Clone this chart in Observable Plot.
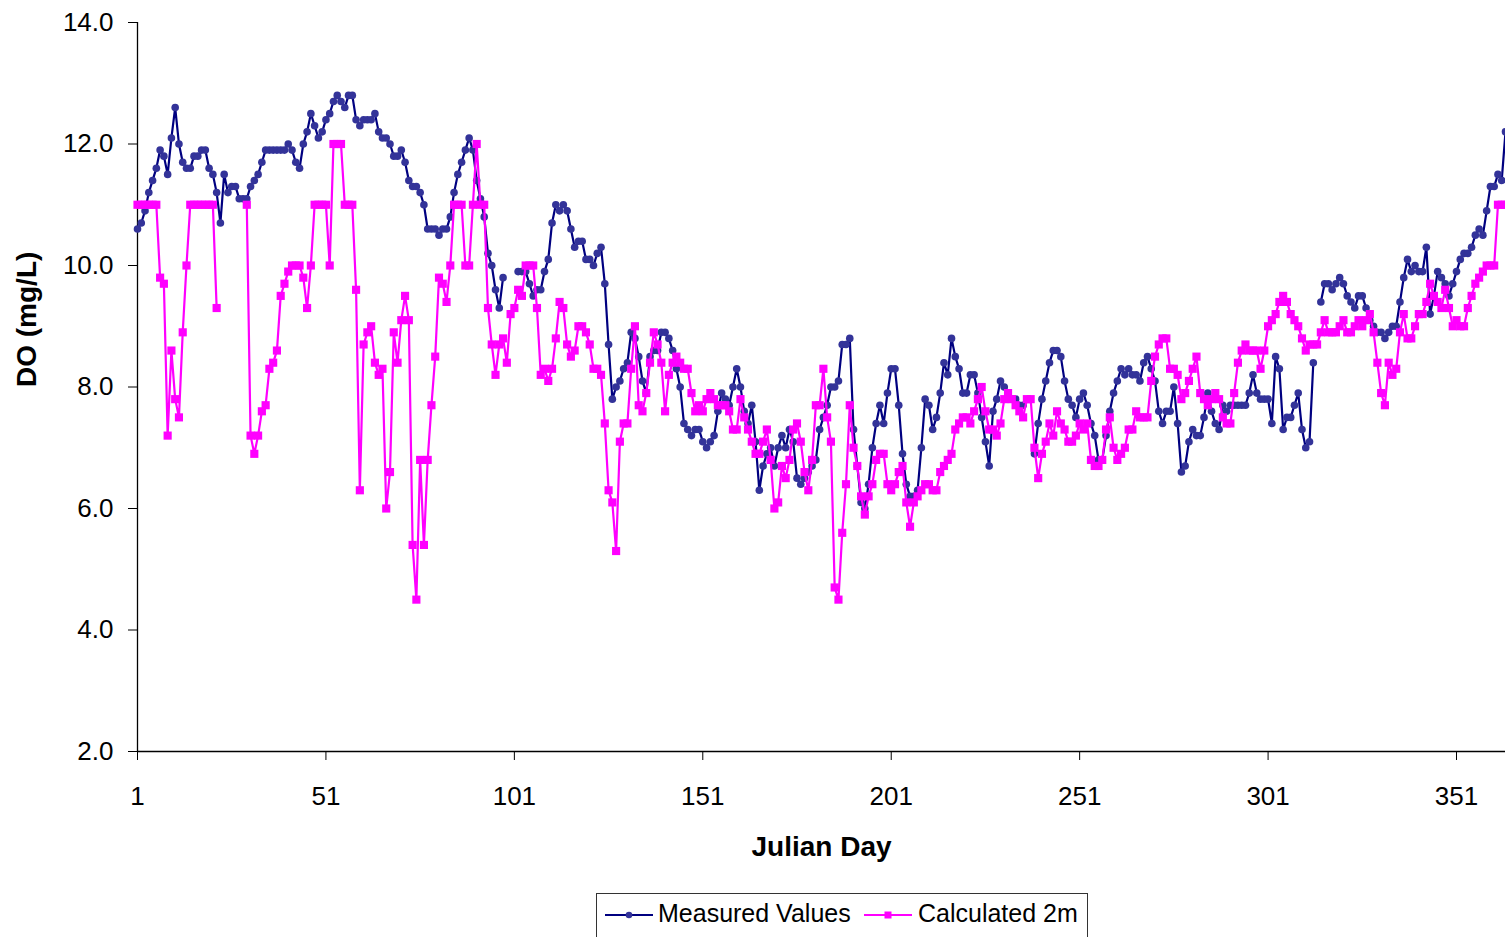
<!DOCTYPE html>
<html>
<head>
<meta charset="utf-8">
<script src="https://cdn.jsdelivr.net/npm/d3@7"></script>
<script src="https://cdn.jsdelivr.net/npm/@observablehq/plot@0.6"></script>
<style>
  body { margin: 0; background: #fff; font-family: "Liberation Sans", Arial, sans-serif; }
  #wrap { position: relative; width: 1505px; height: 937px; overflow: hidden; background: #fff; }
  #legend { position: absolute; left: 596px; top: 893px; width: 492px; height: 60px; border: 1px solid #333; box-sizing: border-box; background: #fff; }
  #legend .lab { position: absolute; top: 4px; font-size: 25px; line-height: 30px; color: #000; white-space: nowrap; }
  #legend svg { position: absolute; top: 13px; }
</style>
</head>
<body>
<div id="wrap">
  <div id="chart"></div>
  <div id="legend"></div>
</div>
<script>
// Julian day 1..364, DO (mg/L)
const measured = [
  10.6, 10.7, 10.9, 11.2, 11.4, 11.6, 11.9, 11.8, 11.5, 12.1,
  12.6, 12.0, 11.7, 11.6, 11.6, 11.8, 11.8, 11.9, 11.9, 11.6,
  11.5, 11.2, 10.7, 11.5, 11.2, 11.3, 11.3, 11.1, 11.1, 11.1,
  11.3, 11.4, 11.5, 11.7, 11.9, 11.9, 11.9, 11.9, 11.9, 11.9,
  12.0, 11.9, 11.7, 11.6, 12.0, 12.2, 12.5, 12.3, 12.1, 12.2,
  12.4, 12.5, 12.7, 12.8, 12.7, 12.6, 12.8, 12.8, 12.4, 12.3,
  12.4, 12.4, 12.4, 12.5, 12.2, 12.1, 12.1, 12.0, 11.8, 11.8,
  11.9, 11.7, 11.4, 11.3, 11.3, 11.2, 11.0, 10.6, 10.6, 10.6,
  10.5, 10.6, 10.6, 10.8, 11.2, 11.5, 11.7, 11.9, 12.1, 11.9,
  11.4, 11.1, 10.8, 10.2, 10.0, 9.6, 9.3, 9.8, null, null,
  null, 9.9, 9.9, 9.9, 9.7, 9.5, 9.6, 9.6, 9.9, 10.1,
  10.7, 11.0, 10.9, 11.0, 10.9, 10.6, 10.3, 10.4, 10.4, 10.1,
  10.1, 10.0, 10.2, 10.3, 9.7, 8.7, 7.8, 8.0, 8.1, 8.3,
  8.4, 8.9, 8.8, 8.5, 8.1, 7.9, 8.5, 8.6, 8.6, 8.9,
  8.9, 8.8, 8.6, 8.3, 8.0, 7.4, 7.3, 7.2, 7.3, 7.3,
  7.1, 7.0, 7.1, 7.2, 7.6, 7.9, 7.8, 7.7, 8.0, 8.3,
  8.0, 7.6, 7.4, 7.7, 7.1, 6.3, 6.7, 6.9, 7.0, 6.7,
  7.0, 7.2, 7.0, 7.3, 7.1, 6.5, 6.4, 6.5, 6.6, 6.7,
  6.8, 7.3, 7.5, 7.7, 8.0, 8.0, 8.1, 8.7, 8.7, 8.8,
  7.3, 6.7, 6.1, 6.0, 6.4, 7.0, 7.4, 7.7, 7.4, 7.9,
  8.3, 8.3, 7.7, 6.9, 6.4, 6.2, 6.2, 6.3, 7.0, 7.8,
  7.7, 7.3, 7.5, 7.9, 8.4, 8.2, 8.8, 8.5, 8.3, 7.9,
  7.9, 8.2, 8.2, 7.9, 7.5, 7.1, 6.7, 7.6, 7.8, 8.1,
  8.0, 7.9, 7.8, 7.8, 7.7, 7.7, null, null, 6.9, 7.4,
  7.8, 8.1, 8.4, 8.6, 8.6, 8.5, 8.1, 7.8, 7.7, 7.5,
  7.8, 7.9, 7.7, 7.4, 7.2, 6.8, 6.8, 7.2, 7.6, 7.9,
  8.1, 8.3, 8.2, 8.3, 8.2, 8.2, 8.1, 8.4, 8.5, 8.3,
  8.1, 7.6, 7.4, 7.6, 7.6, 8.0, 7.4, 6.6, 6.7, 7.1,
  7.3, 7.2, 7.2, 7.5, 7.9, 7.6, 7.4, 7.3, 7.7, 7.6,
  7.7, 7.7, 7.7, 7.7, 7.7, 7.9, 8.2, 7.9, 7.8, 7.8,
  7.8, 7.4, 8.5, 8.3, 7.3, 7.5, 7.5, 7.7, 7.9, 7.3,
  7.0, 7.1, 8.4, null, 9.4, 9.7, 9.7, 9.6, 9.7, 9.8,
  9.7, 9.5, 9.4, 9.3, 9.5, 9.5, 9.3, 9.1, 9.0, 8.9,
  8.9, 8.8, 8.9, 9.0, 9.0, 9.4, 9.8, 10.1, 9.9, 10.0,
  9.9, 9.9, 10.3, 9.2, 9.5, 9.9, 9.8, 9.7, 9.5, 9.7,
  9.9, 10.1, 10.2, 10.2, 10.3, 10.5, 10.6, 10.5, 10.9, 11.3,
  11.3, 11.5, 11.4, 12.2
];

const calculated = [
  11.0, 11.0, 11.0, 11.0, 11.0, 11.0, 9.8, 9.7, 7.2, 8.6,
  7.8, 7.5, 8.9, 10.0, 11.0, 11.0, 11.0, 11.0, 11.0, 11.0,
  11.0, 9.3, null, null, null, null, null, null, null, 11.0,
  7.2, 6.9, 7.2, 7.6, 7.7, 8.3, 8.4, 8.6, 9.5, 9.7,
  9.9, 10.0, 10.0, 10.0, 9.8, 9.3, 10.0, 11.0, 11.0, 11.0,
  11.0, 10.0, 12.0, 12.0, 12.0, 11.0, 11.0, 11.0, 9.6, 6.3,
  8.7, 8.9, 9.0, 8.4, 8.2, 8.3, 6.0, 6.6, 8.9, 8.4,
  9.1, 9.5, 9.1, 5.4, 4.5, 6.8, 5.4, 6.8, 7.7, 8.5,
  9.8, 9.7, 9.4, 10.0, 11.0, 11.0, 11.0, 10.0, 10.0, 11.0,
  12.0, 11.0, 11.0, 9.3, 8.7, 8.2, 8.7, 8.8, 8.4, 9.2,
  9.3, 9.6, 9.5, 10.0, 10.0, 10.0, 9.3, 8.2, 8.3, 8.1,
  8.3, 8.8, 9.4, 9.3, 8.7, 8.5, 8.6, 9.0, 9.0, 8.9,
  8.7, 8.3, 8.3, 8.2, 7.4, 6.3, 6.1, 5.3, 7.1, 7.4,
  7.4, 8.3, 9.0, 7.7, 7.6, 7.9, 8.4, 8.9, 8.7, 8.4,
  7.6, 8.2, 8.4, 8.5, 8.4, 8.3, 8.3, 7.9, 7.6, 7.7,
  7.6, 7.8, 7.9, 7.8, 7.7, 7.7, 7.7, 7.6, 7.3, 7.3,
  7.8, 7.5, 7.3, 7.1, 6.9, 6.9, 7.1, 7.3, 6.8, 6.0,
  6.1, 6.7, 6.5, 6.8, 7.3, 7.4, 7.1, 6.6, 6.3, 6.8,
  7.7, 7.7, 8.3, 7.5, 7.1, 4.7, 4.5, 5.6, 6.4, 7.7,
  7.0, 6.7, 6.2, 5.9, 6.2, 6.4, 6.8, 6.9, 6.9, 6.4,
  6.3, 6.4, 6.6, 6.7, 6.1, 5.7, 6.1, 6.2, 6.3, 6.4,
  6.4, 6.3, 6.3, 6.6, 6.7, 6.8, 6.9, 7.3, 7.4, 7.5,
  7.5, 7.4, 7.6, 7.8, 8.0, 7.6, 7.3, 7.3, 7.2, 7.4,
  7.8, 7.9, 7.8, 7.7, 7.6, 7.5, 7.8, 7.8, 7.0, 6.5,
  6.9, 7.1, 7.4, 7.2, 7.6, 7.4, 7.3, 7.1, 7.1, 7.2,
  7.4, 7.3, 7.4, 6.8, 6.7, 6.7, 6.8, 7.3, 7.5, 7.0,
  6.8, 6.9, 7.0, 7.3, 7.3, 7.6, 7.5, 7.5, 7.5, 8.1,
  8.5, 8.7, 8.8, 8.8, 8.3, 8.3, 8.2, 7.8, 7.9, 8.1,
  8.3, 8.5, 7.9, 7.8, 7.7, 7.8, 7.9, 7.8, 7.5, 7.4,
  7.4, 7.9, 8.4, 8.6, 8.7, 8.6, 8.6, 8.6, 8.3, 8.6,
  9.0, 9.1, 9.2, 9.4, 9.5, 9.4, 9.2, 9.1, 9.0, 8.8,
  8.6, 8.7, 8.7, 8.7, 8.9, 9.1, 8.9, 8.9, 8.9, 9.0,
  9.1, 8.9, 8.9, 9.0, 9.1, 9.0, 9.1, 9.2, 8.9, 8.4,
  7.9, 7.7, 8.4, 8.2, 8.3, 8.9, 9.2, 8.8, 8.8, 9.0,
  9.2, 9.2, 9.4, 9.7, 9.5, 9.4, 9.3, 9.6, 9.3, 9.0,
  9.1, 9.0, 9.0, 9.3, 9.5, 9.7, 9.8, 9.9, 10.0, 10.0,
  10.0, 11.0, 11.0, 11.0
];

const seriesNames = ["Measured Values", "Calculated 2m"];
const xTicks = [1, 51, 101, 151, 201, 251, 301, 351];
const yTicks = [2, 4, 6, 8, 10, 12, 14];
const xTitle = "Julian Day";
const yTitle = "DO (mg/L)";

const mData = measured.map((v, i) => ({day: i + 1, v}));
const cData = calculated.map((v, i) => ({day: i + 1, v}));
const lastDay = Math.max(measured.length, calculated.length);

const FONT = '"Liberation Sans", Arial, sans-serif';
const BLUE_LINE = "#000080", BLUE_DOT = "#333399", MAGENTA = "#ff00ff";

const chart = Plot.plot({
  width: 1505,
  height: 880,
  marginLeft: 137,
  marginRight: 0,
  marginTop: 22,
  marginBottom: 129,
  style: {fontFamily: FONT, fontSize: "26px", color: "#000", background: "#fff", overflow: "visible"},
  x: {domain: [1, lastDay], ticks: xTicks, tickFormat: d => String(d), tickSize: 9, tickPadding: 26, label: null},
  y: {domain: [yTicks[0], yTicks[yTicks.length - 1]], ticks: yTicks, tickFormat: d3.format(".1f"), tickSize: 9, tickPadding: 15, label: null},
  marks: [
    Plot.ruleX([1], {y1: yTicks[0], y2: yTicks[yTicks.length - 1], stroke: "#000", strokeWidth: 1.3}),
    Plot.ruleY([yTicks[0]], {x1: 1, x2: lastDay, stroke: "#000", strokeWidth: 1.3}),
    Plot.line(mData, {x: "day", y: "v", stroke: BLUE_LINE, strokeWidth: 2.2}),
    Plot.dot(mData, {x: "day", y: "v", r: 3.8, fill: BLUE_DOT, stroke: "none"}),
    Plot.line(cData, {x: "day", y: "v", stroke: MAGENTA, strokeWidth: 2.2}),
    Plot.dot(cData, {x: "day", y: "v", r: 4.6, symbol: "square", fill: MAGENTA, stroke: "none"}),
    Plot.text([xTitle], {frameAnchor: "bottom", dy: 104, text: d => d, fontSize: 28, fontWeight: "bold", fill: "#000"}),
    Plot.text([yTitle], {frameAnchor: "left", dx: -110, rotate: -90, text: d => d, fontSize: 28, fontWeight: "bold", fill: "#000"})
  ]
});
document.getElementById("chart").appendChild(chart);

// legend
const legend = document.getElementById("legend");
const items = [
  {name: seriesNames[0], line: BLUE_LINE, fill: BLUE_DOT, sym: "circle", swX: 8, txX: 61},
  {name: seriesNames[1], line: MAGENTA, fill: MAGENTA, sym: "square", swX: 267, txX: 321}
];
for (const it of items) {
  const ns = "http://www.w3.org/2000/svg";
  const svg = document.createElementNS(ns, "svg");
  svg.setAttribute("width", 48); svg.setAttribute("height", 16);
  svg.style.left = it.swX + "px";
  const ln = document.createElementNS(ns, "line");
  ln.setAttribute("x1", 0); ln.setAttribute("x2", 48); ln.setAttribute("y1", 8); ln.setAttribute("y2", 8);
  ln.setAttribute("stroke", it.line); ln.setAttribute("stroke-width", 2.2);
  svg.appendChild(ln);
  let m;
  if (it.sym === "circle") {
    m = document.createElementNS(ns, "circle");
    m.setAttribute("cx", 24); m.setAttribute("cy", 8); m.setAttribute("r", 3.3);
  } else {
    m = document.createElementNS(ns, "rect");
    m.setAttribute("x", 20.5); m.setAttribute("y", 4.5); m.setAttribute("width", 7); m.setAttribute("height", 7);
  }
  m.setAttribute("fill", it.fill);
  svg.appendChild(m);
  legend.appendChild(svg);
  const t = document.createElement("span");
  t.className = "lab";
  t.style.left = it.txX + "px";
  t.textContent = it.name;
  legend.appendChild(t);
}
</script>
</body>
</html>
